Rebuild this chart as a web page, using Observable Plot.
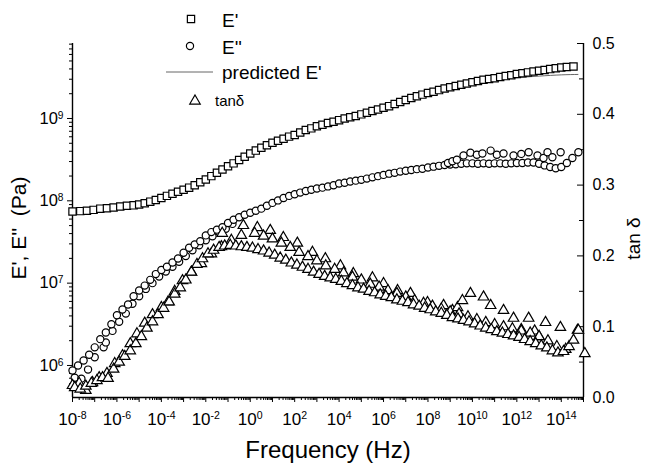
<!DOCTYPE html>
<html><head><meta charset="utf-8">
<script src="https://cdn.jsdelivr.net/npm/d3@7"></script>
<script src="https://cdn.jsdelivr.net/npm/@observablehq/plot@0.6"></script>
<style>body{margin:0;background:#fff}#chart svg{display:block}</style>
</head><body><div id="chart"></div>
<script>
// ---- data: [log10 frequency (Hz), log10 modulus (Pa)] or [log10 frequency, tan delta]
const ePrime = [[-8.0,7.87],[-7.65,7.875],[-7.35,7.88],[-7.05,7.89],[-6.75,7.905],[-6.45,7.91],[-6.15,7.92],[-5.85,7.93],[-5.55,7.94],[-5.25,7.945],
[-5.0,7.955],[-4.75,7.97],[-4.5,7.99],[-4.25,8.01],[-4.0,8.035],[-3.75,8.06],[-3.5,8.085],[-3.25,8.11],[-3.0,8.135],[-2.75,8.16],[-2.5,8.19],[-2.25,8.225],
[-2.0,8.26],[-1.75,8.30],[-1.5,8.34],[-1.25,8.38],[-1.0,8.42],[-0.75,8.455],[-0.5,8.495],[-0.25,8.535],[0.0,8.575],[0.25,8.61],[0.5,8.645],[0.75,8.675],
[1.0,8.705],[1.25,8.73],[1.5,8.755],[1.75,8.78],[2.0,8.80],[2.25,8.83],[2.5,8.86],[2.75,8.88],[3.0,8.905],[3.25,8.925],[3.5,8.945],[3.75,8.96],
[4.0,8.98],[4.25,9.00],[4.5,9.015],[4.75,9.03],[5.0,9.05],[5.25,9.07],[5.5,9.09],[5.75,9.11],[6.0,9.13],[6.25,9.15],[6.5,9.175],[6.75,9.20],
[7.0,9.225],[7.25,9.25],[7.5,9.27],[7.75,9.29],[8.0,9.31],[8.25,9.325],[8.5,9.345],[8.75,9.365],[9.0,9.38],[9.25,9.395],[9.5,9.41],[9.75,9.425],
[10.0,9.44],[10.25,9.455],[10.5,9.47],[10.75,9.48],[11.0,9.49],[11.25,9.505],[11.5,9.515],[11.75,9.525],[12.0,9.54],[12.25,9.55],[12.5,9.56],[12.75,9.57],
[13.0,9.58],[13.25,9.59],[13.5,9.60],[13.75,9.61],[14.0,9.62],[14.25,9.625],[14.55,9.632]];

const ePrimePredicted = [[-8,7.86],[-7,7.87],[-6,7.915],[-5,7.95],[-4,8.03],[-3,8.13],[-2,8.255],[-1,8.415],[0,8.57],[1,8.70],[2,8.80],[3,8.90],
[4,8.975],[5,9.045],[6,9.125],[7,9.22],[8,9.30],[9,9.37],[10,9.425],[11,9.465],[12,9.495],[13,9.515],[14,9.53],[14.75,9.535]];

const eDouble = [[-8.0,5.94],[-7.75,6.0],[-7.5,6.06],[-7.25,6.13],[-7.0,6.22],[-6.75,6.32],[-6.5,6.40],[-6.25,6.50],[-6.0,6.61],[-5.75,6.68],[-5.5,6.74],
[-5.25,6.84],[-5.0,6.91],[-4.75,6.97],[-4.5,7.04],[-4.25,7.11],[-4.0,7.16],[-3.75,7.20],[-3.5,7.25],[-3.25,7.30],[-3.0,7.37],[-2.75,7.43],[-2.5,7.47],
[-2.25,7.51],[-2.0,7.58],[-1.75,7.62],[-1.5,7.65],[-1.25,7.68],[-1.0,7.73],[-0.75,7.77],[-0.5,7.80],[-0.25,7.83],[0.0,7.855],[0.25,7.88],[0.5,7.905],
[0.75,7.94],[1.0,7.975],[1.25,8.005],[1.5,8.035],[1.75,8.06],[2.0,8.08],[2.25,8.10],[2.5,8.12],[2.75,8.135],[3.0,8.15],[3.25,8.16],[3.5,8.175],
[3.75,8.19],[4.0,8.21],[4.25,8.22],[4.5,8.235],[4.75,8.245],[5.0,8.255],[5.25,8.27],[5.5,8.285],[5.75,8.30],[6.0,8.315],[6.25,8.33],[6.5,8.34],
[6.75,8.355],[7.0,8.365],[7.25,8.375],[7.5,8.385],[7.75,8.39],[8.0,8.405],[8.25,8.415],[8.5,8.425],[8.75,8.435],[9.0,8.44],[9.25,8.445],[9.5,8.45],
[9.75,8.455],[10.0,8.455],[10.25,8.45],[10.5,8.455],[10.75,8.45],[11.0,8.455],[11.25,8.455],[11.5,8.45],[11.75,8.455],[12.0,8.46],[12.25,8.46],
[12.5,8.465],[12.75,8.465],[13.0,8.45],[13.25,8.43],[13.5,8.41],[13.75,8.395],[14.0,8.41],[14.25,8.46],[14.5,8.52],[14.77,8.59]];

const eDoubleLowBand = [[-7.9,5.85],[-7.6,5.84],[-7.3,5.95],[-7.0,6.10],[-6.6,6.22],[-6.5,6.28],[-6.2,6.42],[-5.9,6.53],[-5.6,6.63],[-5.3,6.75],
[-5.0,6.84],[-4.7,6.93],[-4.4,7.00],[-4.1,7.08],[-3.8,7.14],[-3.5,7.20],[-3.2,7.26],[-2.9,7.33],[-2.6,7.40],[-2.3,7.46],[-2.0,7.52],[-1.7,7.57],
[-1.4,7.62],[-1.1,7.66],[-0.8,7.72]];

const eDoubleHighBand = [[8.9,8.46],[9.1,8.48],[9.3,8.50],[9.6,8.55],[9.91,8.585],[10.2,8.56],[10.45,8.575],[10.82,8.61],[11.1,8.56],[11.4,8.575],
[11.85,8.55],[12.2,8.57],[12.53,8.59],[12.93,8.55],[13.2,8.52],[13.38,8.59],[13.6,8.53],[13.97,8.59]];

const tanLow = [[-7.9,0.014],[-7.65,0.012],[-7.4,0.016],[-7.15,0.020],[-6.9,0.024],[-6.65,0.028],[-6.4,0.027],[-6.15,0.040],[-5.9,0.050],[-5.65,0.058],
[-5.4,0.066],[-5.15,0.076],[-4.9,0.086],[-4.65,0.098],[-4.4,0.107],[-4.15,0.117],[-3.9,0.126],[-3.65,0.135],[-3.4,0.146],[-3.15,0.155],[-2.9,0.166],
[-2.65,0.177],[-2.4,0.188],[-2.15,0.196],[-1.9,0.203],[-1.65,0.208],[-1.4,0.212],[-1.15,0.214],[-0.9,0.215],[-0.65,0.214],[-0.4,0.213],[-0.15,0.212],
[0.1,0.211],[0.35,0.209],[0.6,0.207],[0.85,0.204],[1.1,0.201],[1.35,0.197],[1.6,0.194],[1.85,0.190],[2.1,0.187],[2.35,0.184],[2.6,0.181],[2.85,0.177],
[3.1,0.174],[3.35,0.171],[3.6,0.169],[3.85,0.167],[4.1,0.164],[4.35,0.161],[4.6,0.158],[4.85,0.155],[5.1,0.153],[5.35,0.150],[5.6,0.148],[5.85,0.145],
[6.1,0.143],[6.35,0.141],[6.6,0.138],[6.85,0.136],[7.1,0.134],[7.35,0.131],[7.6,0.129],[7.85,0.126],[8.1,0.124],[8.35,0.121],[8.6,0.119],[8.85,0.116],
[9.1,0.113],[9.35,0.111],[9.6,0.109],[9.85,0.107],[10.1,0.104],[10.35,0.101],[10.6,0.098],[10.85,0.096],[11.1,0.093],[11.35,0.091],[11.6,0.089],
[11.85,0.087],[12.1,0.085],[12.35,0.082],[12.6,0.079],[12.85,0.076],[13.1,0.073],[13.35,0.070],[13.6,0.066],[13.85,0.063],[14.1,0.065],[14.35,0.072],
[14.55,0.081],[14.77,0.095],[15.06,0.062]];

const tanMid = [[-8.0,0.017],[-7.7,0.020],[-7.4,0.010],[-7.1,0.021],[-6.8,0.028],[-6.45,0.034],[-6.1,0.048],[-5.75,0.059],[-5.4,0.076],[-5.1,0.090],
[-4.75,0.105],[-4.4,0.117],[-4.0,0.127],[-3.7,0.135],[-3.4,0.150],[-3.05,0.165],[-2.65,0.177],[-2.2,0.189],[-1.75,0.203],[-1.3,0.213],[-0.85,0.222],
[-0.4,0.229],[0.2,0.232],[0.6,0.228],[1.0,0.224],[1.4,0.218],[1.8,0.212],[2.2,0.205],[2.6,0.199],[3.0,0.193],[3.4,0.186],[3.8,0.181],[4.2,0.176],
[4.6,0.170],[5.0,0.166],[5.4,0.160],[5.8,0.156],[6.2,0.151],[6.6,0.147],[7.0,0.142],[7.4,0.137],[7.8,0.133],[8.2,0.129],[8.6,0.125],[9.0,0.121],
[9.4,0.118],[9.8,0.114],[10.2,0.110],[10.6,0.106],[11.0,0.103],[11.4,0.100],[11.8,0.097],[12.2,0.094],[12.6,0.091],[13.0,0.086],[13.4,0.080],
[13.8,0.072],[14.2,0.068]];

const tanHigh = [[-1.26,0.232],[-0.31,0.243],[0.32,0.240],[0.90,0.236],[1.49,0.226],[2.12,0.218],[2.80,0.205],[3.38,0.196],[4.06,0.186],[4.64,0.175],
[5.50,0.169],[6.00,0.161],[6.63,0.151],[7.21,0.147],[7.98,0.134],[8.70,0.130],[9.10,0.123],[9.33,0.127],[9.55,0.137],[9.91,0.147],[10.50,0.142],
[10.82,0.130],[11.40,0.123],[11.85,0.112],[12.2,0.096],[12.53,0.112],[12.8,0.094],[13.0,0.086],[13.29,0.106],[13.96,0.099],[14.73,0.095]];

// ---- ticks / labels
const xDecadeExps = [-8,-7,-6,-5,-4,-3,-2,-1,0,1,2,3,4,5,6,7,8,9,10,11,12,13,14,15];
const xLabelExps = [-8,-6,-4,-2,0,2,4,6,8,10,12,14];
const yDecadeExps = [6,7,8,9];
const tanTicks = [0.0,0.1,0.2,0.3,0.4,0.5];
const tanMinorTicks = [0.05,0.15,0.25,0.35,0.45];
const minorMultipliers = [2,3,4,5,6,7,8,9];

// ---- scale geometry
const yLo = 5.611, yHi = 9.911;          // log10 of left-axis domain
const yFromTan = t => 10 ** (yLo + (t / 0.5) * (yHi - yLo));
const toE = ([f, v]) => ({x: 10 ** f, y: 10 ** v});
const toT = ([f, t]) => ({x: 10 ** f, y: yFromTan(t)});

const xMinor = xDecadeExps.slice(0, -1).flatMap(e => minorMultipliers.map(m => m * 10 ** e));
const yMinor = [5, ...yDecadeExps].flatMap(e => minorMultipliers.map(m => m * 10 ** e))
  .filter(v => v > 10 ** yLo && v < 10 ** yHi);

const W = 645, H = 463, mL = 72, mR = 62, mT = 43, mB = 66;
const frameW = W - mL - mR;
const font = "'Liberation Sans', Arial, Helvetica, sans-serif";

const sq = {symbol: "square", r: 4.1, stroke: "black", strokeWidth: 1.2, fill: "white"};
const ci = {symbol: "circle", r: 3.6, stroke: "black", strokeWidth: 1.2, fill: "white"};
const tr = {symbol: "triangle", r: 3.9, stroke: "black", strokeWidth: 1.2, fill: "white"};

const chart = Plot.plot({
  width: W, height: H,
  marginLeft: mL, marginRight: mR, marginTop: mT, marginBottom: mB,
  style: {fontFamily: font, background: "white", color: "black", overflow: "visible"},
  x: {type: "log", domain: [1e-8, 1e15]},
  y: {type: "log", domain: [10 ** yLo, 10 ** yHi]},
  marks: [
    // axes lines
    Plot.ruleX([1e-8, 1e15], {stroke: "black", strokeWidth: 1.4}),
    Plot.ruleY([10 ** yLo], {stroke: "black", strokeWidth: 1.4}),
    // bottom axis
    Plot.axisX(xDecadeExps.map(e => 10 ** e), {anchor: "bottom", tickSize: 5, tickPadding: 10, fontSize: 17, label: null,
      tickFormat: v => { const e = Math.round(Math.log10(v)); return xLabelExps.includes(e) ? `10^${e}` : ""; }}),
    Plot.axisX(xMinor, {anchor: "bottom", tickSize: 3, tickFormat: () => "", label: null}),
    // left axis
    Plot.axisY(yDecadeExps.map(e => 10 ** e), {anchor: "left", tickSize: 5, tickPadding: 4, fontSize: 16.5, label: null,
      tickFormat: v => `10^${Math.round(Math.log10(v))}`}),
    Plot.axisY(yMinor, {anchor: "left", tickSize: 3, tickFormat: () => "", label: null}),
    // right axis (tan delta): inward ticks + labels
    Plot.tickY(tanTicks, {y: yFromTan, stroke: "black", insetLeft: frameW - 6}),
    Plot.tickY(tanMinorTicks, {y: yFromTan, stroke: "black", insetLeft: frameW - 4}),
    Plot.text(tanTicks, {y: yFromTan, text: d => d.toFixed(1), frameAnchor: "right", dx: 9, textAnchor: "start", lineAnchor: "middle", fontSize: 16}),
    // axis titles
    Plot.text(["Frequency (Hz)"], {frameAnchor: "bottom", dy: 53, fontSize: 24, textAnchor: "middle", lineAnchor: "middle"}),
    Plot.text(["E', E''\u00a0 (Pa)"], {frameAnchor: "left", dx: -53, dy: 7.5, rotate: -90, fontSize: 21, textAnchor: "middle", lineAnchor: "middle"}),
    Plot.text(["tan δ"], {frameAnchor: "right", dx: 50, dy: 18, rotate: -90, fontSize: 19, textAnchor: "middle", lineAnchor: "middle"}),
    // data
    Plot.line(ePrimePredicted.map(toE), {x: "x", y: "y", stroke: "#555", strokeWidth: 0.9, curve: "natural"}),
    Plot.dot(ePrime.map(toE), {x: "x", y: "y", ...sq}),
    Plot.dot(eDoubleLowBand.map(toE), {x: "x", y: "y", ...ci}),
    Plot.dot(eDouble.map(toE), {x: "x", y: "y", ...ci}),
    Plot.dot(eDoubleHighBand.map(toE), {x: "x", y: "y", ...ci}),
    Plot.dot(tanHigh.map(toT), {x: "x", y: "y", ...tr}),
    Plot.dot(tanMid.map(toT), {x: "x", y: "y", ...tr}),
    Plot.dot(tanLow.map(toT), {x: "x", y: "y", ...tr})
  ]
});

const svg = d3.select(chart);
// superscript exponents on log tick labels
svg.selectAll("text").each(function () {
  const m = /^10\^(-?\d+)$/.exec(this.textContent);
  if (m) {
    const t = d3.select(this);
    t.text("10");
    t.append("tspan").attr("dy", "-0.5em").attr("font-size", "0.62em").text(m[1]);
  }
});

// legend
const lg = svg.append("g").attr("font-family", font).attr("fill", "black").attr("text-anchor", "start");
const sym = (type, r) => d3.symbol(type, Math.PI * r * r)();
lg.append("path").attr("d", sym(d3.symbolSquare, 4.1)).attr("transform", "translate(191,19)")
  .attr("fill", "white").attr("stroke", "black").attr("stroke-width", 1.2);
lg.append("text").attr("x", 222).attr("y", 27).attr("font-size", 19).text("E'");
lg.append("path").attr("d", sym(d3.symbolCircle, 3.6)).attr("transform", "translate(190,46)")
  .attr("fill", "white").attr("stroke", "black").attr("stroke-width", 1.2);
lg.append("text").attr("x", 222).attr("y", 53.5).attr("font-size", 19).text("E''");
lg.append("line").attr("x1", 166).attr("x2", 213).attr("y1", 72).attr("y2", 72).attr("stroke", "#555").attr("stroke-width", 0.9);
lg.append("text").attr("x", 222).attr("y", 79).attr("font-size", 19).text("predicted E'");
lg.append("path").attr("d", sym(d3.symbolTriangle, 3.9)).attr("transform", "translate(195,101)")
  .attr("fill", "white").attr("stroke", "black").attr("stroke-width", 1.2);
lg.append("text").attr("x", 215).attr("y", 106).attr("font-size", 15).text("tanδ");

document.getElementById("chart").appendChild(chart);
</script>
</body></html>
